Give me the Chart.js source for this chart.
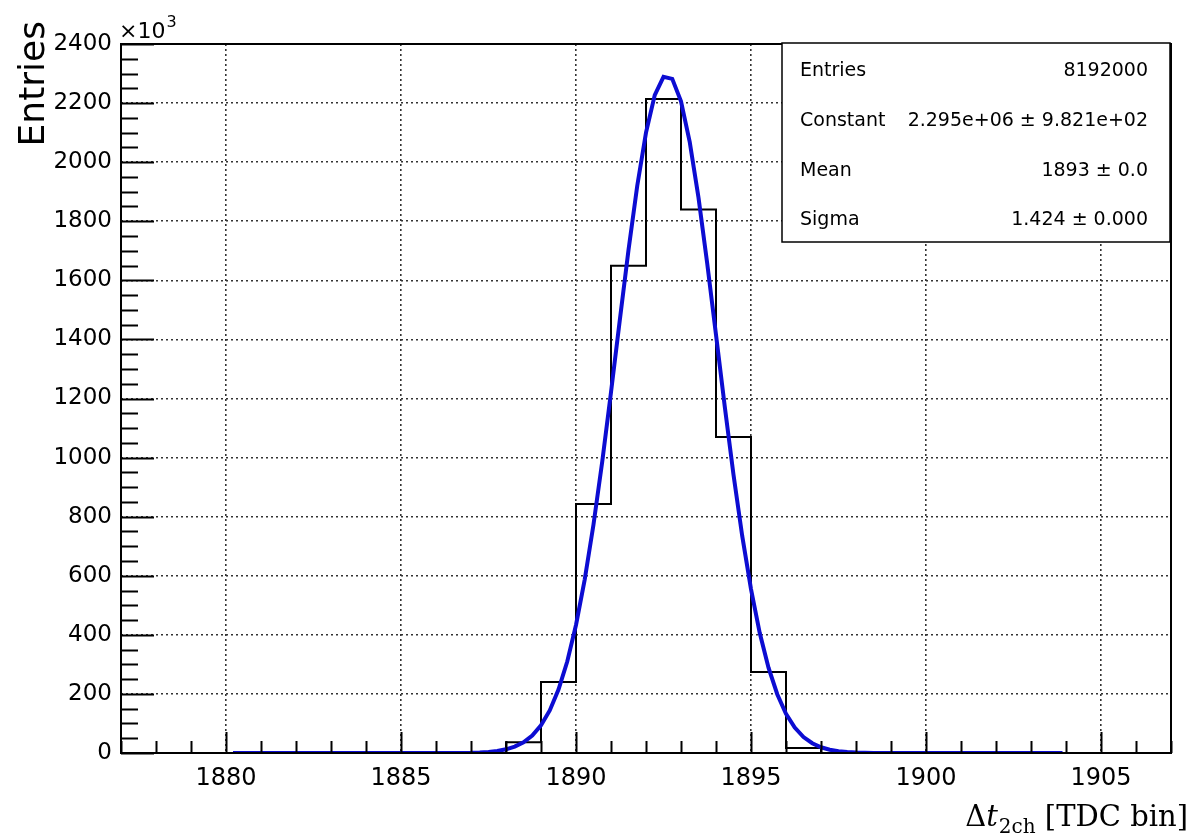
<!DOCTYPE html>
<html>
<head>
<meta charset="utf-8">
<script src="https://cdn.jsdelivr.net/npm/chart.js@4.4.1/dist/chart.umd.min.js"></script>
<style>
  html, body { margin: 0; padding: 0; background: #fff; }
  #wrap { width: 1196px; height: 838px; position: relative; }
</style>
</head>
<body>
<div id="wrap"><canvas id="c" width="1196" height="838"></canvas></div>
<script>
// ---- data (values in units of 10^3 entries) ----
const binEdges  = [1887, 1888, 1889, 1890, 1891, 1892, 1893, 1894, 1895, 1896, 1897];
const binCounts = [0, 36, 240, 843, 1649, 2214, 1840, 1070, 274, 17, 0];

const fitX = [1880.2, 1886, 1887,
  1887.25, 1887.5, 1887.75, 1888, 1888.25, 1888.5, 1888.75, 1889,
  1889.25, 1889.5, 1889.75, 1890, 1890.25, 1890.5, 1890.75, 1891,
  1891.25, 1891.5, 1891.75, 1892, 1892.25, 1892.5, 1892.75, 1893,
  1893.25, 1893.5, 1893.75, 1894, 1894.25, 1894.5, 1894.75, 1895,
  1895.25, 1895.5, 1895.75, 1896, 1896.25, 1896.5, 1896.75, 1897,
  1897.25, 1897.5, 1897.75, 1898, 1898.5, 1899.5, 1903.9];
const fitY = [0, 0.05, 1.0,
  2.0, 3.8, 7.0, 12.4, 21.6, 36.4, 59.3, 94.0,
  144.2, 214.6, 309.8, 433.3, 588, 773.6, 986.9, 1221,
  1464, 1703, 1920, 2100, 2227, 2289, 2282, 2206,
  2068, 1880, 1656, 1416, 1173, 942, 734, 555,
  406, 289, 199, 133, 86, 54, 33, 19.4,
  11.1, 6.2, 3.3, 1.7, 0.4, 0.05, 0];

const xTickValues = [1880, 1885, 1890, 1895, 1900, 1905];
const yTickValues = [0, 200, 400, 600, 800, 1000, 1200, 1400, 1600, 1800, 2000, 2200, 2400];

const statsLabels = ['Entries', 'Constant', 'Mean', 'Sigma'];
const statsValues = ['8192000', '2.295e+06 \u00b1 9.821e+02', '1893 \u00b1 0.0', '1.424 \u00b1 0.000'];

// ---- drawing helpers ----
const SANS = '"DejaVu Sans", "Liberation Sans", Arial, sans-serif';
const SERIF = '"DejaVu Serif", "Liberation Serif", serif';

const rootStyle = {
  id: 'rootStyle',
  afterDraw(chart) {
    const ctx = chart.ctx;
    const a = chart.chartArea;
    const xs = chart.scales.x, ys = chart.scales.y;
    ctx.save();
    ctx.strokeStyle = '#000';
    ctx.lineWidth = 2;
    ctx.setLineDash([]);
    // frame
    ctx.strokeRect(a.left, a.top, a.right - a.left, a.bottom - a.top);
    // y ticks (inside)
    ctx.beginPath();
    for (let v = ys.min; v <= ys.max + 1e-6; v += 50) {
      const py = Math.round(ys.getPixelForValue(v)) + 0.5;
      const len = (v % 200 === 0) ? 33 : 17;
      ctx.moveTo(a.left, py); ctx.lineTo(a.left + len, py);
    }
    // x ticks (inside)
    for (let v = Math.ceil(xs.min); v <= xs.max + 1e-6; v += 1) {
      const px = Math.round(xs.getPixelForValue(v)) + 0.5;
      const len = (v % 5 === 0) ? 21 : 12;
      ctx.moveTo(px, a.bottom); ctx.lineTo(px, a.bottom - len);
    }
    ctx.stroke();

    // stats box
    const bx = 782, by = 43, bw = 388, bh = 199;
    ctx.fillStyle = '#fff';
    ctx.fillRect(bx, by, bw, bh);
    ctx.lineWidth = 1.5;
    ctx.strokeRect(bx, by, bw, bh);
    ctx.fillStyle = '#000';
    ctx.font = '19px ' + SANS;
    ctx.textBaseline = 'alphabetic';
    const rows = [76, 126, 176, 225];
    statsLabels.forEach((t, i) => {
      ctx.textAlign = 'left';
      ctx.fillText(t, 800, rows[i]);
      ctx.textAlign = 'right';
      ctx.fillText(statsValues[i], 1148, rows[i]);
    });

    // x10^3
    ctx.textAlign = 'left';
    ctx.font = '22px ' + SANS;
    ctx.fillText('\u00d710', 119, 38);
    const w10 = ctx.measureText('\u00d710').width;
    ctx.font = '16px ' + SANS;
    ctx.fillText('3', 119 + w10 + 1, 27);

    // y title
    ctx.save();
    ctx.translate(44, 21);
    ctx.rotate(-Math.PI / 2);
    ctx.font = '36px ' + SANS;
    ctx.textAlign = 'right';
    ctx.fillText('Entries', 0, 0);
    ctx.restore();

    // x title: Δt_{2ch} [TDC bin]
    const base = 826;
    const p1 = '\u0394', p2 = 't', p3 = '2ch', p4 = ' [TDC bin]';
    ctx.font = '29px ' + SERIF; const w1 = ctx.measureText(p1).width;
    ctx.font = 'italic 29px ' + SERIF; const w2 = ctx.measureText(p2).width;
    ctx.font = '20px ' + SERIF; const w3 = ctx.measureText(p3).width;
    ctx.font = '29px ' + SERIF; const w4 = ctx.measureText(p4).width;
    let x0 = 1188 - (w1 + w2 + w3 + w4 + 1);
    ctx.textAlign = 'left';
    ctx.font = '29px ' + SERIF; ctx.fillText(p1, x0, base); x0 += w1;
    ctx.font = 'italic 29px ' + SERIF; ctx.fillText(p2, x0, base); x0 += w2 + 1;
    ctx.font = '20px ' + SERIF; ctx.fillText(p3, x0, base + 7); x0 += w3;
    ctx.font = '29px ' + SERIF; ctx.fillText(p4, x0, base);
    ctx.restore();
  }
};

new Chart(document.getElementById('c'), {
  type: 'line',
  data: {
    datasets: [
      {
        label: 'fit',
        data: fitX.map((x, i) => ({ x: x, y: fitY[i] })),
        borderColor: 'rgb(12,12,210)',
        borderWidth: 4,
        pointRadius: 0,
        tension: 0,
        fill: false,
        order: 0
      },
      {
        label: 'hist',
        data: binEdges.map((x, i) => ({ x: x, y: binCounts[i] })),
        borderColor: '#000',
        borderWidth: 2,
        pointRadius: 0,
        stepped: 'before',
        fill: false,
        order: 1
      }
    ]
  },
  options: {
    responsive: false,
    animation: false,
    events: [],
    layout: { padding: { top: 44, right: 25, left: 0, bottom: 0 } },
    plugins: { legend: { display: false }, tooltip: { enabled: false } },
    scales: {
      x: {
        type: 'linear',
        min: 1877, max: 1907,
        afterBuildTicks: s => { s.ticks = xTickValues.map(v => ({ value: v })); },
        afterFit: s => { s.height = 85; },
        ticks: { color: '#000', font: { family: SANS, size: 24 }, padding: 11, maxRotation: 0, autoSkip: false,
                 callback: v => String(v) },
        grid: { color: '#333', lineWidth: 1.6, drawTicks: false },
        border: { display: false, dash: [2, 3] }
      },
      y: {
        type: 'linear',
        min: 0, max: 2400,
        afterBuildTicks: s => { s.ticks = yTickValues.map(v => ({ value: v })); },
        afterFit: s => { s.width = 121; },
        ticks: { color: '#000', font: { family: SANS, size: 23 }, padding: 9, autoSkip: false,
                 callback: v => String(v) },
        grid: { color: '#333', lineWidth: 1.6, drawTicks: false },
        border: { display: false, dash: [2, 3] }
      }
    }
  },
  plugins: [rootStyle]
});
</script>
</body>
</html>
